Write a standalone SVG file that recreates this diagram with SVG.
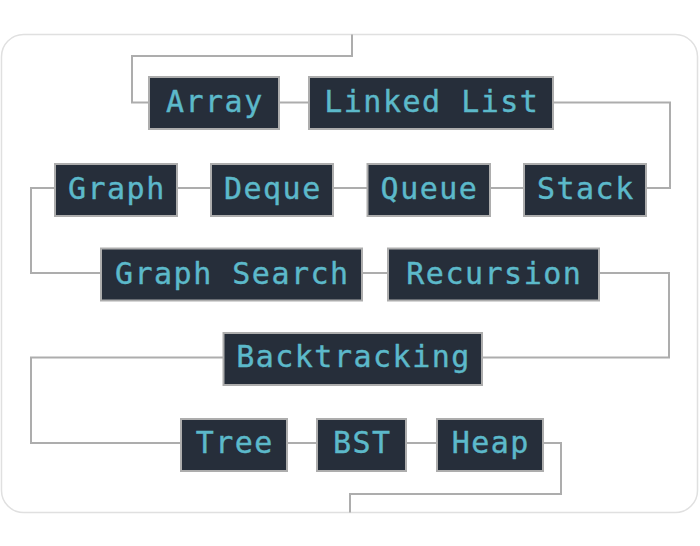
<svg xmlns="http://www.w3.org/2000/svg" width="700" height="546" viewBox="0 0 700 546">
<style>
.box{fill:#262e3a;stroke:#adadad;stroke-width:2}
.lbl{font-family:"DejaVu Sans Mono","Liberation Mono",monospace;font-size:30px;letter-spacing:1.5px;fill:#5cb9ca;text-anchor:middle;stroke:#5cb9ca;stroke-width:0.4}
.edge{fill:none;stroke:#adadad;stroke-width:2}
</style>
<rect x="1.5" y="34.5" width="696" height="478" rx="22" fill="#ffffff" stroke="#e0e0e0" stroke-width="1.5"/>
<g id="connectors">
<path class="edge" d="M352 34.5V56H132V102.5H149"/>
<path class="edge" d="M279 102.5H309"/>
<path class="edge" d="M553 102.5H670V188H646"/>
<path class="edge" d="M524 188H490"/>
<path class="edge" d="M367 188H333"/>
<path class="edge" d="M211 188H177"/>
<path class="edge" d="M55 188H31V273H101"/>
<path class="edge" d="M362 273H388"/>
<path class="edge" d="M599 273H669V357.5H482"/>
<path class="edge" d="M223 357.5H31V443H181"/>
<path class="edge" d="M287 443H317"/>
<path class="edge" d="M406 443H437"/>
<path class="edge" d="M543 443H561V494H350V512.5"/>
</g>
<g id="n-array"><rect class="box" x="149" y="77" width="130" height="52"/><text class="lbl" x="214.8" y="112">Array</text></g>
<g id="n-linkedlist"><rect class="box" x="309" y="77" width="244" height="52"/><text class="lbl" x="431.8" y="112">Linked List</text></g>
<g id="n-graph"><rect class="box" x="55" y="164" width="122" height="52"/><text class="lbl" x="116.8" y="199">Graph</text></g>
<g id="n-deque"><rect class="box" x="211" y="164" width="122" height="52"/><text class="lbl" x="272.8" y="199">Deque</text></g>
<g id="n-queue"><rect class="box" x="367.5" y="164" width="122.5" height="52"/><text class="lbl" x="429.5" y="199">Queue</text></g>
<g id="n-stack"><rect class="box" x="524" y="164" width="122" height="52"/><text class="lbl" x="585.8" y="199">Stack</text></g>
<g id="n-graphsearch"><rect class="box" x="101" y="248.5" width="261" height="52"/><text class="lbl" x="232.3" y="284">Graph Search</text></g>
<g id="n-recursion"><rect class="box" x="388" y="248.5" width="211" height="52"/><text class="lbl" x="494.3" y="284">Recursion</text></g>
<g id="n-backtracking"><rect class="box" x="223.5" y="333" width="258.5" height="52"/><text class="lbl" x="353.5" y="367">Backtracking</text></g>
<g id="n-tree"><rect class="box" x="181" y="419" width="106" height="52"/><text class="lbl" x="234.8" y="453">Tree</text></g>
<g id="n-bst"><rect class="box" x="317" y="419" width="89" height="52"/><text class="lbl" x="362.3" y="453">BST</text></g>
<g id="n-heap"><rect class="box" x="437" y="419" width="106" height="52"/><text class="lbl" x="490.8" y="453">Heap</text></g>
</svg>
